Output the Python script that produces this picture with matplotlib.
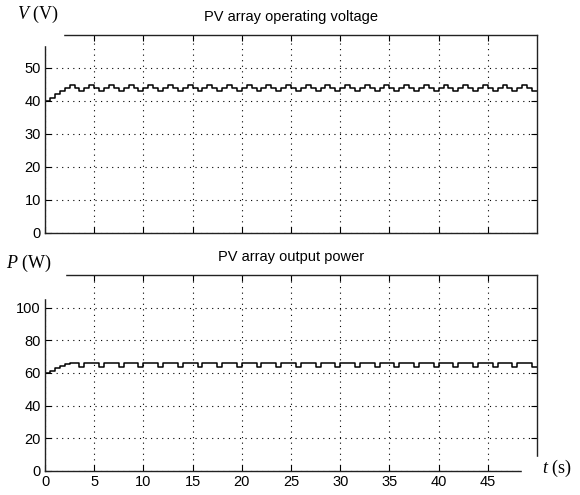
import numpy as np
import matplotlib
matplotlib.use("Agg")
import matplotlib.pyplot as plt
from matplotlib.patches import Rectangle

# step values held for 0.5 s each, 0 .. 50 s
step_dt = 0.5
voltage = [40.0, 41.0, 42.0, 43.0, 43.9, 44.8,
           43.9, 43.0, 43.9, 44.8, 43.9, 43.0, 43.9, 44.8, 43.9, 43.0,
           43.9, 44.8, 43.9, 43.0, 43.9, 44.8, 43.9, 43.0, 43.9, 44.8,
           43.9, 43.0, 43.9, 44.8, 43.9, 43.0, 43.9, 44.8, 43.9, 43.0,
           43.9, 44.8, 43.9, 43.0, 43.9, 44.8, 43.9, 43.0, 43.9, 44.8,
           43.9, 43.0, 43.9, 44.8, 43.9, 43.0, 43.9, 44.8, 43.9, 43.0,
           43.9, 44.8, 43.9, 43.0, 43.9, 44.8, 43.9, 43.0, 43.9, 44.8,
           43.9, 43.0, 43.9, 44.8, 43.9, 43.0, 43.9, 44.8, 43.9, 43.0,
           43.9, 44.8, 43.9, 43.0, 43.9, 44.8, 43.9, 43.0, 43.9, 44.8,
           43.9, 43.0, 43.9, 44.8, 43.9, 43.0, 43.9, 44.8, 43.9, 43.0,
           43.9, 44.8, 43.9, 43.0]
power = [60.0, 61.5, 63.0, 64.0, 65.5, 65.9,
         65.9, 63.7, 65.9, 65.9, 65.9, 63.7, 65.9, 65.9, 65.9, 63.7,
         65.9, 65.9, 65.9, 63.7, 65.9, 65.9, 65.9, 63.7, 65.9, 65.9,
         65.9, 63.7, 65.9, 65.9, 65.9, 63.7, 65.9, 65.9, 65.9, 63.7,
         65.9, 65.9, 65.9, 63.7, 65.9, 65.9, 65.9, 63.7, 65.9, 65.9,
         65.9, 63.7, 65.9, 65.9, 65.9, 63.7, 65.9, 65.9, 65.9, 63.7,
         65.9, 65.9, 65.9, 63.7, 65.9, 65.9, 65.9, 63.7, 65.9, 65.9,
         65.9, 63.7, 65.9, 65.9, 65.9, 63.7, 65.9, 65.9, 65.9, 63.7,
         65.9, 65.9, 65.9, 63.7, 65.9, 65.9, 65.9, 63.7, 65.9, 65.9,
         65.9, 63.7, 65.9, 65.9, 65.9, 63.7, 65.9, 65.9, 65.9, 63.7,
         65.9, 65.9, 65.9, 63.7]
xticks = [0, 5, 10, 15, 20, 25, 30, 35, 40, 45]
v_ticks = [0, 10, 20, 30, 40, 50]
p_ticks = [0, 20, 40, 60, 80, 100]

t = np.arange(len(voltage) + 1) * step_dt
v = voltage + [voltage[-1]]
p = power + [power[-1]]

plt.rcParams["font.family"] = ["Liberation Sans", "DejaVu Sans"]
plt.rcParams["mathtext.fontset"] = "custom"
plt.rcParams["mathtext.it"] = "Liberation Serif:italic"
plt.rcParams["mathtext.rm"] = "Liberation Serif"

W, H = 580, 495
fig = plt.figure(figsize=(5.8, 4.95), dpi=100)

ax1 = fig.add_axes([45 / W, 1 - 233 / H, 492 / W, 198 / H])
ax2 = fig.add_axes([45 / W, 1 - 471 / H, 492 / W, 196 / H])

for ax, y, ylim, yt, title in [(ax1, v, 60, v_ticks, "PV array operating voltage"),
                               (ax2, p, 120, p_ticks, "PV array output power")]:
    ax.plot(t, y, drawstyle="steps-post", color="black", lw=1.1)
    ax.set_xlim(0, 50)
    ax.set_ylim(0, ylim)
    ax.set_xticks(xticks)
    ax.set_yticks(yt)
    ax.grid(True, color="black", linestyle=(0, (1, 4)), linewidth=0.8)
    ax.tick_params(direction="in", length=4, top=True, right=True,
                   labelsize=10.5, pad=3)
    for s in ax.spines.values():
        s.set_linewidth(1.0)
        s.set_color("#222222")
    ax.set_title(title, fontsize=10.5, pad=10)

ax1.set_xticklabels([])

# white covers where the unit labels sit over the frame
for x0, y0, w, h in [(0, 0, 63, 45), (0, 248, 65, 50), (522, 457, 58, 38)]:
    fig.patches.append(Rectangle((x0 / W, 1 - (y0 + h) / H), w / W, h / H,
                                 transform=fig.transFigure, color="white", zorder=5))

fig.text(17 / W, 1 - 14 / H, r"$V\ \mathrm{(V)}$", fontsize=13, va="center", zorder=6)
fig.text(6 / W, 1 - 263 / H, r"$P\ \mathrm{(W)}$", fontsize=13, va="center", zorder=6)
fig.text(542 / W, 1 - 468 / H, r"$t\ \mathrm{(s)}$", fontsize=13, va="center", zorder=6)

fig.savefig("out.png", dpi=100)
